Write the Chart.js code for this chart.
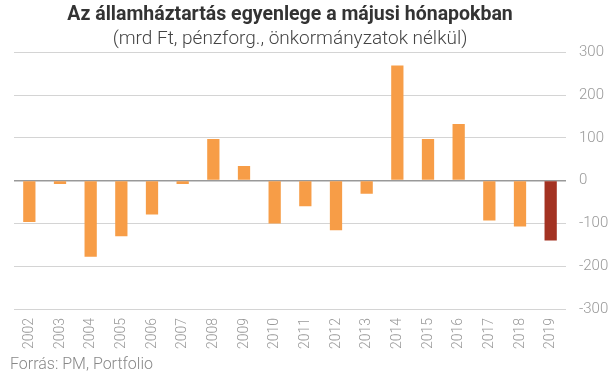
<!DOCTYPE html>
<html>
<head>
<meta charset="utf-8">
<script src="https://cdn.jsdelivr.net/npm/chart.js@4"></script>
<style>
  html, body { margin: 0; padding: 0; background: #fff; }
  #wrap { width: 614px; height: 374px; }
</style>
</head>
<body>
<div id="wrap"><canvas id="chart" width="614" height="374"></canvas></div>
<script>
const years = ['2002', '2003', '2004', '2005', '2006', '2007', '2008', '2009', '2010',
  '2011', '2012', '2013', '2014', '2015', '2016', '2017', '2018', '2019'];
const balance = [-97, -8, -178, -130, -79, -8, 97, 34, -100,
  -60, -116, -31, 269, 97, 132, -93, -107, -140];
const yTicks = [-300, -200, -100, 0, 100, 200, 300];

const orange = '#F79D47';
const darkRed = '#A33222';
const barColors = years.map((y, i) => (i === years.length - 1 ? darkRed : orange));

// forrás felirat a bal alsó sarokban
const sourcePlugin = {
  id: 'source',
  afterDraw(chart) {
    const ctx = chart.ctx;
    ctx.save();
    ctx.font = '300 16px Roboto';
    ctx.fillStyle = '#888';
    ctx.textBaseline = 'bottom';
    ctx.textAlign = 'left';
    ctx.fillText('Forrás: PM, Portfolio', 10, 373);
    ctx.restore();
  }
};

new Chart(document.getElementById('chart').getContext('2d'), {
  type: 'bar',
  data: {
    labels: years,
    datasets: [{
      data: balance,
      backgroundColor: barColors,
      barPercentage: 0.4,
      categoryPercentage: 1
    }]
  },
  options: {
    responsive: false,
    animation: false,
    layout: { padding: { left: 14, right: 4, top: 3, bottom: 24 } },
    plugins: {
      legend: { display: false },
      tooltip: { enabled: false },
      title: {
        display: true,
        fullSize: false,
        text: 'Az államháztartás egyenlege a májusi hónapokban',
        color: '#333',
        font: { family: 'Roboto', size: 19.5, weight: 'bold', lineHeight: 1.2 },
        padding: { top: 0, bottom: 1 }
      },
      subtitle: {
        display: true,
        fullSize: false,
        text: '(mrd Ft, pénzforg., önkormányzatok nélkül)',
        color: '#444',
        font: { family: 'Roboto', size: 19, weight: '300', lineHeight: 1.2 },
        padding: { top: 0, bottom: 2 }
      }
    },
    scales: {
      x: {
        afterFit: (axis) => { axis.height = 41; },
        grid: { display: false, drawTicks: false },
        border: { display: false },
        ticks: {
          color: '#999',
          font: { family: 'Roboto', size: 14, weight: '300' },
          minRotation: 90,
          maxRotation: 90,
          padding: 9
        }
      },
      y: {
        position: 'right',
        min: -300,
        max: 300,
        afterFit: (axis) => { axis.width = 44; },
        afterBuildTicks: (axis) => { axis.ticks = yTicks.map(v => ({ value: v })); },
        grid: {
          color: (c) => (c.tick && c.tick.value === 0 ? '#999' : '#d4d4d4'),
          lineWidth: (c) => (c.tick && c.tick.value === 0 ? 1.5 : 1),
          drawTicks: false
        },
        border: { display: false },
        ticks: {
          color: '#999',
          font: { family: 'Roboto', size: 15, weight: '300' },
          padding: 13
        }
      }
    }
  },
  plugins: [sourcePlugin]
});
</script>
</body>
</html>
